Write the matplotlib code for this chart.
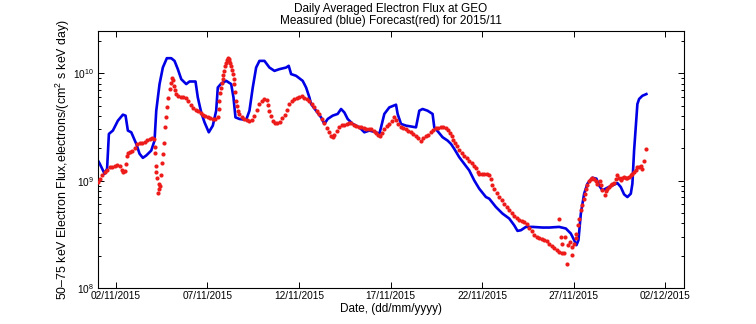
import matplotlib
matplotlib.use("Agg")
import matplotlib.pyplot as plt
import matplotlib.dates as mdates
from matplotlib.ticker import LogLocator, NullFormatter
from datetime import datetime, timedelta
import numpy as np

plt.rcParams['font.family'] = ['Liberation Sans', 'DejaVu Sans']
plt.rcParams['mathtext.fontset'] = 'custom'
plt.rcParams['mathtext.rm'] = 'Liberation Sans'
plt.rcParams['mathtext.it'] = 'Liberation Sans:italic'

# ---- data: day of November 2015 (decimal) and log10 of flux ----
measured_day = [
    1.000, 1.115, 1.387, 1.524, 1.622, 1.840, 2.113, 2.386, 2.533, 2.658,
    2.844, 3.117, 3.297, 3.477, 3.662, 3.935, 4.115, 4.208, 4.388, 4.568,
    4.786, 5.026, 5.206, 5.386, 5.572, 5.845, 6.025, 6.352, 6.477, 6.663,
    6.843, 7.078, 7.296, 7.481, 7.569, 7.754, 8.027, 8.300, 8.425, 8.534,
    8.752, 9.118, 9.298, 9.478, 9.663, 9.843, 10.116, 10.389, 10.662, 10.934,
    11.300, 11.442, 11.573, 11.846, 12.206, 12.391, 12.571, 12.664, 12.937, 13.210,
    13.390, 13.570, 13.842, 14.115, 14.300, 14.480, 14.661, 14.933, 15.299, 15.572,
    15.845, 16.210, 16.390, 16.483, 16.663, 16.936, 17.301, 17.389, 17.574, 17.847,
    18.392, 18.572, 18.752, 19.025, 19.298, 19.391, 19.625, 19.844, 20.116, 20.302,
    20.482, 20.754, 21.027, 21.300, 21.573, 21.845, 22.211, 22.391, 22.757, 23.117,
    23.483, 23.755, 23.935, 24.121, 24.393, 24.753, 25.299, 25.665, 26.210, 26.576,
    26.848, 27.029, 27.154, 27.263, 27.394, 27.574, 27.754, 28.027, 28.245, 28.392,
    28.572, 28.845, 29.118, 29.391, 29.576, 29.756, 29.936, 30.122, 30.209, 30.302,
    30.394, 30.482, 30.575, 30.755, 30.973,
]
measured_log10_flux = [
    9.194, 9.160, 9.064, 9.113, 9.435, 9.466, 9.558, 9.614, 9.605, 9.466,
    9.450, 9.342, 9.250, 9.212, 9.234, 9.280, 9.373, 9.651, 9.899, 10.053,
    10.140, 10.140, 10.115, 10.038, 9.945, 9.899, 9.923, 9.923, 9.775, 9.635,
    9.543, 9.450, 9.512, 9.651, 9.867, 9.904, 9.929, 9.899, 9.775, 9.589,
    9.574, 9.565, 9.651, 9.867, 10.053, 10.115, 10.115, 10.053, 10.022, 10.038,
    10.053, 10.069, 9.992, 9.976, 9.929, 9.867, 9.775, 9.713, 9.651, 9.589,
    9.528, 9.574, 9.605, 9.621, 9.667, 9.635, 9.574, 9.528, 9.496, 9.450,
    9.466, 9.450, 9.435, 9.496, 9.621, 9.682, 9.707, 9.621, 9.528, 9.512,
    9.496, 9.651, 9.667, 9.651, 9.621, 9.496, 9.450, 9.404, 9.373, 9.342,
    9.296, 9.218, 9.157, 9.095, 9.002, 8.925, 8.847, 8.832, 8.754, 8.693,
    8.647, 8.584, 8.532, 8.538, 8.569, 8.569, 8.563, 8.563, 8.569, 8.554,
    8.507, 8.445, 8.399, 8.445, 8.693, 8.878, 8.971, 9.027, 9.018, 8.955,
    8.909, 8.934, 8.955, 8.977, 8.940, 8.872, 8.847, 8.878, 8.971, 9.280,
    9.496, 9.713, 9.760, 9.790, 9.806,
]

forecast_day = [
    1.000, 1.115, 1.251, 1.387, 1.524, 1.660, 1.797, 1.933, 2.069, 2.206,
    2.315, 2.386, 2.479, 2.533, 2.604, 2.680, 2.751, 2.888, 3.024, 3.161,
    3.297, 3.433, 3.570, 3.706, 3.842, 3.979, 4.077, 4.115, 4.131, 4.186,
    4.208, 4.262, 4.350, 4.333, 4.306, 4.415, 4.481, 4.513, 4.568, 4.606,
    4.661, 4.715, 4.786, 4.862, 4.934, 4.988, 5.042, 5.107, 5.162, 5.217,
    5.299, 5.397, 5.533, 5.670, 5.806, 5.943, 6.079, 6.215, 6.352, 6.488,
    6.625, 6.761, 6.897, 7.034, 7.170, 7.307, 7.443, 7.569, 7.623, 7.661,
    7.716, 7.754, 7.798, 7.841, 7.880, 7.934, 7.989, 8.027, 8.071, 8.114,
    8.163, 8.207, 8.261, 8.299, 8.343, 8.387, 8.436, 8.480, 8.524, 8.573,
    8.617, 8.660, 8.753, 8.889, 9.026, 9.162, 9.298, 9.435, 9.571, 9.707,
    9.844, 9.980, 10.116, 10.253, 10.335, 10.389, 10.482, 10.570, 10.690, 10.826,
    10.962, 11.099, 11.235, 11.372, 11.480, 11.617, 11.753, 11.890, 12.026, 12.162,
    12.299, 12.435, 12.572, 12.708, 12.844, 12.981, 13.117, 13.254, 13.390, 13.526,
    13.663, 13.772, 13.843, 13.936, 14.072, 14.208, 14.345, 14.481, 14.617, 14.754,
    14.863, 14.999, 15.136, 15.272, 15.409, 15.545, 15.681, 15.818, 15.954, 16.090,
    16.227, 16.336, 16.418, 16.527, 16.663, 16.799, 16.936, 17.072, 17.209, 17.318,
    17.427, 17.574, 17.700, 17.847, 17.972, 18.120, 18.245, 18.392, 18.518, 18.665,
    18.791, 18.938, 19.064, 19.211, 19.337, 19.484, 19.610, 19.756, 19.882, 20.029,
    20.155, 20.264, 20.346, 20.427, 20.509, 20.618, 20.755, 20.891, 21.028, 21.164,
    21.301, 21.437, 21.573, 21.683, 21.764, 21.847, 21.983, 22.119, 22.256, 22.392,
    22.474, 22.556, 22.665, 22.801, 22.938, 23.074, 23.211, 23.347, 23.483, 23.620,
    23.756, 23.893, 24.029, 24.165, 24.302, 24.438, 24.575, 24.711, 24.847, 24.984,
    25.120, 25.257, 25.393, 25.529, 25.666, 25.802, 25.939, 26.075, 26.211, 26.348,
    26.484, 26.211, 26.304, 26.359, 26.539, 26.632, 26.719, 26.795, 26.904, 26.937,
    27.030, 27.122, 27.155, 27.231, 27.303, 27.395, 27.483, 27.559, 27.630, 27.696,
    27.756, 27.848, 27.941, 28.028, 28.121, 28.214, 28.301, 28.432, 28.503, 28.574,
    28.719, 28.774, 28.845, 28.938, 29.030, 29.118, 29.211, 29.304, 29.391, 29.484,
    29.577, 29.664, 29.757, 29.849, 29.937, 30.031, 30.123, 30.211, 30.303, 30.396,
    30.483, 30.576, 30.669, 30.756, 30.849, 30.942,
]
forecast_log10_flux = [
    8.986, 9.018, 9.052, 9.080, 9.103, 9.125, 9.127, 9.136, 9.141, 9.134,
    9.103, 9.078, 9.094, 9.156, 9.233, 9.256, 9.264, 9.275, 9.307, 9.340,
    9.347, 9.346, 9.363, 9.377, 9.388, 9.395, 9.386, 9.310, 9.255, 9.140,
    9.078, 9.023, 8.971, 8.924, 8.887, 8.946, 9.048, 9.165, 9.249, 9.351,
    9.496, 9.588, 9.681, 9.774, 9.852, 9.910, 9.956, 9.938, 9.882, 9.845,
    9.805, 9.789, 9.776, 9.776, 9.766, 9.743, 9.706, 9.678, 9.660, 9.644,
    9.627, 9.613, 9.599, 9.588, 9.581, 9.576, 9.576, 9.588, 9.669, 9.743,
    9.817, 9.866, 9.910, 9.944, 9.984, 10.021, 10.068, 10.098, 10.123, 10.139,
    10.133, 10.114, 10.091, 10.068, 10.031, 9.991, 9.947, 9.898, 9.827, 9.743,
    9.697, 9.650, 9.623, 9.595, 9.576, 9.562, 9.558, 9.567, 9.604, 9.655,
    9.713, 9.743, 9.757, 9.754, 9.706, 9.650, 9.604, 9.558, 9.541, 9.536,
    9.548, 9.581, 9.609, 9.660, 9.715, 9.738, 9.757, 9.771, 9.782, 9.788,
    9.774, 9.757, 9.743, 9.713, 9.681, 9.650, 9.620, 9.576, 9.534, 9.493,
    9.449, 9.419, 9.403, 9.428, 9.465, 9.497, 9.514, 9.522, 9.530, 9.537,
    9.539, 9.522, 9.509, 9.502, 9.495, 9.487, 9.481, 9.481, 9.479, 9.465,
    9.444, 9.426, 9.420, 9.446, 9.481, 9.504, 9.527, 9.558, 9.588, 9.567,
    9.530, 9.496, 9.488, 9.481, 9.465, 9.449, 9.434, 9.419, 9.395, 9.372,
    9.395, 9.414, 9.428, 9.449, 9.470, 9.486, 9.493, 9.496, 9.496, 9.488,
    9.474, 9.446, 9.419, 9.382, 9.349, 9.321, 9.289, 9.259, 9.233, 9.208,
    9.187, 9.164, 9.140, 9.113, 9.080, 9.064, 9.064, 9.064, 9.059, 9.048,
    9.011, 8.955, 8.918, 8.885, 8.847, 8.816, 8.785, 8.756, 8.723, 8.698,
    8.668, 8.649, 8.631, 8.623, 8.615, 8.593, 8.561, 8.529, 8.496, 8.473,
    8.465, 8.459, 8.451, 8.438, 8.414, 8.391, 8.368, 8.352, 8.337, 8.329,
    8.322, 8.646, 8.476, 8.408, 8.476, 8.223, 8.399, 8.429, 8.383, 8.306,
    8.414, 8.461, 8.507, 8.584, 8.646, 8.723, 8.770, 8.825, 8.878, 8.918,
    8.955, 8.992, 9.017, 9.022, 9.017, 8.992, 8.971, 9.001, 8.955, 8.909,
    8.862, 8.899, 8.924, 8.941, 8.955, 8.964, 8.976, 9.011, 9.048, 9.029,
    9.008, 9.020, 9.032, 9.029, 9.026, 9.038, 9.048, 9.062, 9.078, 9.103,
    9.125, 9.131, 9.140, 9.110, 9.187, 9.295,
]

tick_dates = [datetime(2015, 11, 2), datetime(2015, 11, 7), datetime(2015, 11, 12),
              datetime(2015, 11, 17), datetime(2015, 11, 22), datetime(2015, 11, 27),
              datetime(2015, 12, 2)]
x_limits = [datetime(2015, 11, 1), datetime(2015, 12, 3)]
y_limits = [1e8, 2.5e10]

title_text = "Daily Averaged Electron Flux at GEO\nMeasured (blue) Forecast(red) for 2015/11"
x_label = "Date, (dd/mm/yyyy)"
y_label = "50\u201375 keV Electron Flux,electrons/(cm$^2$ s keV day)"

# ---- conversion ----
base = datetime(2015, 11, 1)
m_t = [base + timedelta(days=d - 1) for d in measured_day]
f_t = [base + timedelta(days=d - 1) for d in forecast_day]
m_f = 10.0 ** np.array(measured_log10_flux)
f_f = 10.0 ** np.array(forecast_log10_flux)

fig = plt.figure(figsize=(7.56, 3.24), dpi=100)
ax = fig.add_axes([97.5 / 756, 36 / 324, 586 / 756, 257.5 / 324])

ax.plot(m_t, m_f, color='#0000e6', lw=1.9, solid_joinstyle='round', zorder=2)
ax.plot(f_t, f_f, linestyle='none', marker='o', ms=3.0, mec='none',
        mfc='#ee1b1b', zorder=3)

ax.set_yscale('log')
ax.set_ylim(*y_limits)
ax.set_xlim(*x_limits)
ax.set_xticks(tick_dates)
ax.xaxis.set_major_formatter(mdates.DateFormatter('%d/%m/%Y'))
ax.yaxis.set_major_locator(LogLocator(base=10, numticks=10))
ax.yaxis.set_minor_locator(LogLocator(base=10, subs=np.arange(2, 10), numticks=20))
ax.yaxis.set_minor_formatter(NullFormatter())

ax.tick_params(which='both', direction='in', top=True, right=True,
               labelsize=7.3, width=0.7, pad=2.5)
ax.tick_params(which='major', length=4.3)
ax.tick_params(which='minor', length=2.5)
for s in ax.spines.values():
    s.set_linewidth(0.8)

ax.set_title(title_text, fontsize=8.5, linespacing=1.0, pad=5)
ax.set_xlabel(x_label, fontsize=8.5, labelpad=1)
ax.set_ylabel(y_label, fontsize=8.9, labelpad=1)

fig.savefig("out.png", dpi=100)
